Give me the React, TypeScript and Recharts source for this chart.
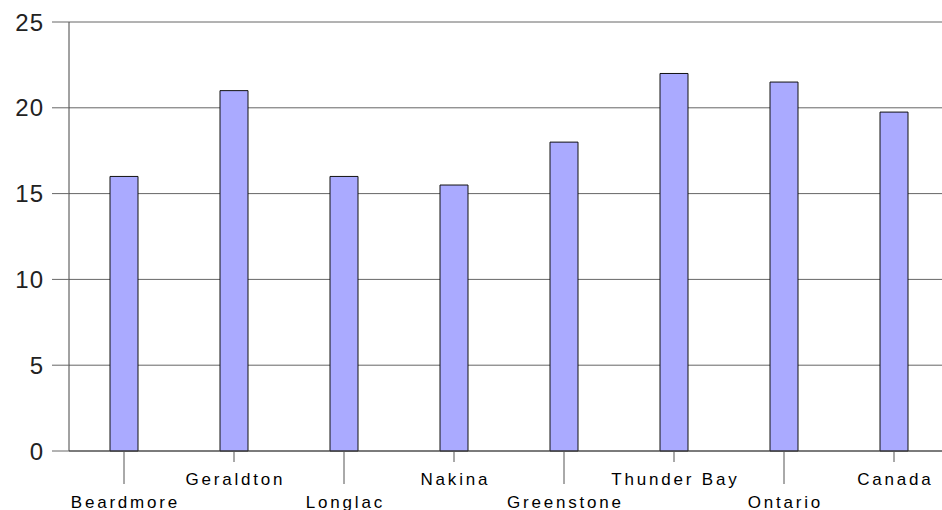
import { Bar, BarChart, CartesianGrid, XAxis, YAxis } from "recharts";

const PLACES = [
  "Beardmore",
  "Geraldton",
  "Longlac",
  "Nakina",
  "Greenstone",
  "Thunder Bay",
  "Ontario",
  "Canada",
];
const VALUES = [16, 21, 16, 15.5, 18, 22, 21.5, 19.75];
const Y_TICKS = [0, 5, 10, 15, 20, 25];

const rows = PLACES.map((name, i) => ({ name, value: VALUES[i] }));

const FONT = "'Liberation Sans', Arial, sans-serif";

// staggered labels: even ones hang lower with a longer tick
function PlaceTick(props: any) {
  const { x, y, payload, index } = props;
  const low = index % 2 === 0;
  const len = low ? 33 : 11;
  return (
    <g>
      <line x1={x} x2={x} y1={y} y2={y + len} stroke="#555" strokeWidth={1} />
      <text
        x={x + 1.4}
        y={y + (low ? 57 : 34)}
        textAnchor="middle"
        fill="#000"
        fontSize={17}
        fontFamily={FONT}
        letterSpacing={2.8}
      >
        {payload.value}
      </text>
    </g>
  );
}

export default function App() {
  return (
    <div
      style={{
        position: "fixed",
        left: 0,
        top: 0,
        width: 942,
        height: 510,
        overflow: "hidden",
        background: "#fff",
      }}
    >
      {/* plot runs a little past the right edge, as in the source image */}
      <BarChart
        width={949}
        height={510}
        data={rows}
        margin={{ top: 22, right: 0, left: 0, bottom: 0 }}
        barSize={28}
      >
        <CartesianGrid vertical={false} stroke="#666" strokeWidth={1} />
        <XAxis
          dataKey="name"
          height={59}
          axisLine={{ stroke: "#444" }}
          tickLine={false}
          tickSize={0}
          tickMargin={0}
          interval={0}
          tick={<PlaceTick />}
        />
        <YAxis
          width={69}
          domain={[0, 25]}
          ticks={Y_TICKS}
          tickSize={17}
          tickMargin={8}
          axisLine={{ stroke: "#444" }}
          tickLine={{ stroke: "#666" }}
          tick={{ fill: "#222", fontSize: 24, fontFamily: FONT, letterSpacing: 1 }}
        />
        <Bar
          dataKey="value"
          fill="#aaaaff"
          stroke="#111"
          strokeWidth={1}
          isAnimationActive={false}
        />
      </BarChart>
    </div>
  );
}
